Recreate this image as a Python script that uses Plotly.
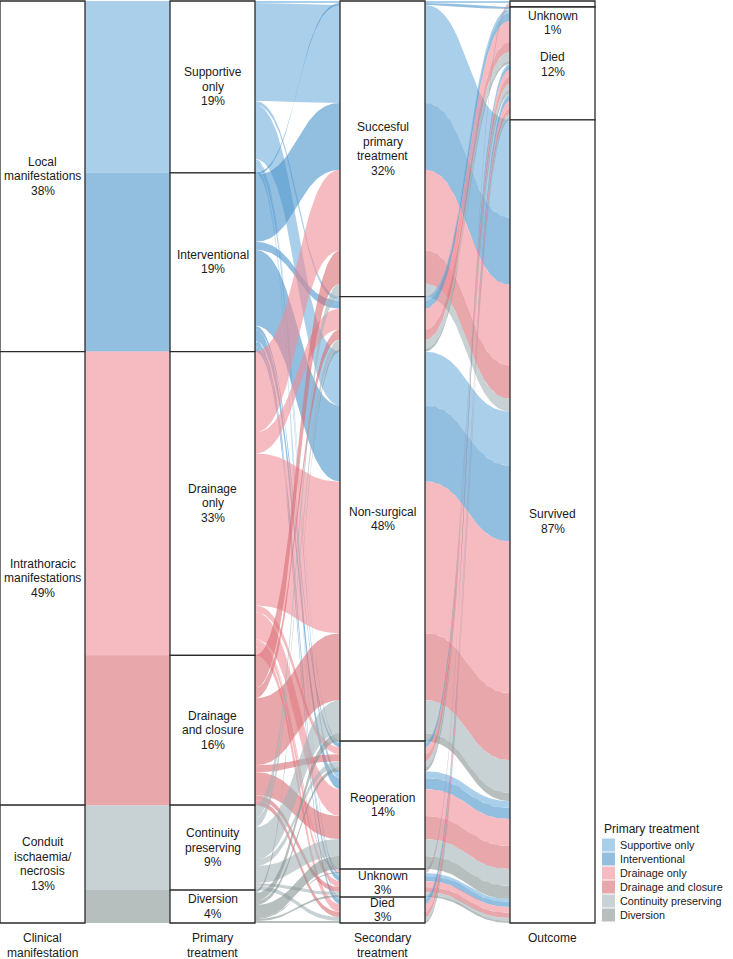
import numpy as np
import plotly.graph_objects as go

# ---------------- data ----------------
clinical_levels = ["Local manifestations", "Intrathoracic manifestations", "Conduit ischaemia/necrosis"]
clinical_labels = ["Local<br>manifestations<br>38%", "Intrathoracic<br>manifestations<br>49%",
                   "Conduit<br>ischaemia/<br>necrosis<br>13%"]

primary_levels = ["Supportive only", "Interventional", "Drainage only", "Drainage and closure",
                  "Continuity preserving", "Diversion"]
primary_labels = ["Supportive<br>only<br>19%", "Interventional<br>19%", "Drainage<br>only<br>33%",
                  "Drainage<br>and closure<br>16%", "Continuity<br>preserving<br>9%", "Diversion<br>4%"]
primary_clinical = [0, 0, 1, 1, 2, 2]

secondary_levels = ["Succesful primary treatment", "Non-surgical", "Reoperation", "Unknown", "Died"]
secondary_labels = ["Succesful<br>primary<br>treatment<br>32%", "Non-surgical<br>48%", "Reoperation<br>14%",
                    "Unknown<br>3%", "Died<br>3%"]

outcome_levels = ["Unknown", "Died", "Survived"]
outcome_labels = ["Unknown<br>1%", "Died<br>12%", "Survived<br>87%"]

axis_titles = ["Clinical<br>manifestation", "Primary<br>treatment", "Secondary<br>treatment", "Outcome"]

primary_colors = ["rgba(113,175,220,0.6)", "rgba(73,147,203,0.6)", "rgba(240,142,150,0.6)",
                  "rgba(217,108,115,0.6)", "rgba(163,178,182,0.6)", "rgba(133,147,147,0.6)"]

# alluvia: primary index, secondary index, outcome index, patients
flow_primary = [0, 0, 0, 0, 0, 0, 0, 0,
                1, 1, 1, 1, 1, 1, 1, 1, 1,
                2, 2, 2, 2, 2, 2, 2, 2,
                3, 3, 3, 3, 3, 3, 3,
                4, 4, 4, 4, 4, 4, 4,
                5, 5, 5, 5, 5, 5, 5]
flow_secondary = [0, 0, 1, 1, 2, 2, 3, 4,
                  0, 0, 1, 1, 2, 2, 3, 3, 4,
                  0, 1, 1, 2, 2, 3, 3, 4,
                  0, 1, 1, 2, 2, 3, 4,
                  0, 1, 1, 2, 2, 3, 4,
                  1, 1, 2, 2, 3, 3, 4]
flow_outcome = [0, 2, 1, 2, 1, 2, 2, 1,
                1, 2, 1, 2, 1, 2, 0, 2, 1,
                2, 1, 2, 1, 2, 0, 2, 1,
                2, 1, 2, 1, 2, 2, 1,
                2, 1, 2, 1, 2, 2, 1,
                1, 2, 1, 2, 0, 2, 1]
flow_n = [2, 98, 4, 54, 2, 7, 3, 2,
          2, 67, 8, 76, 4, 11, 1, 5, 5,
          81, 21, 152, 7, 27, 2, 6, 8,
          33, 10, 67, 7, 23, 5, 5,
          13, 9, 33, 6, 17, 3, 4,
          3, 8, 4, 13, 1, 2, 2]

# ---------------- geometry ----------------
W, H = 733, 959
TOP_PX, BOT_PX = 1, 923
N = sum(flow_n)
u = (BOT_PX - TOP_PX) / N          # pixels per patient
y_lo = -TOP_PX / u
y_hi = (H - TOP_PX) / u
axis_px = 170.0
x_lo = 1 - 42.5 / axis_px
x_hi = x_lo + W / axis_px
half = 0.25
LINE_PX = 14.5

vals = [[primary_clinical[p], p, s, o] for p, s, o in zip(flow_primary, flow_secondary, flow_outcome)]
zigzag = [[0, 1, 2, 3], [1, 0, 2, 3], [2, 3, 1, 0], [3, 2, 1, 0]]
n_axes = 4
tops = np.zeros((n_axes, len(flow_n)))
for a in range(n_axes):
    order = sorted(range(len(flow_n)), key=lambda i: tuple(vals[i][k] for k in zigzag[a]) + (i,))
    c = 0.0
    for i in order:
        tops[a, i] = c
        c += flow_n[i]

fig = go.Figure()


def bez(y0, y1, x0, x1, t):
    xm = (x0 + x1) / 2
    x = (1 - t) ** 3 * x0 + 3 * (1 - t) ** 2 * t * xm + 3 * (1 - t) * t ** 2 * xm + t ** 3 * x1
    y = (1 - t) ** 3 * y0 + 3 * (1 - t) ** 2 * t * y0 + 3 * (1 - t) * t ** 2 * y1 + t ** 3 * y1
    return x, y


t = np.linspace(0, 1, 70)
for a in range(n_axes - 1):
    x0 = a + 1 + half
    x1 = a + 2 - half
    # merge neighbouring alluvia that stay adjacent on both sides and share a colour
    order = sorted(range(len(flow_n)), key=lambda i: tops[a, i])
    groups = []
    for i in order:
        col = flow_primary[i]
        if groups:
            g = groups[-1]
            if g[0] == col and abs(g[2] - tops[a, i]) < 1e-9 and abs(g[4] - tops[a + 1, i]) < 1e-9:
                g[2] += flow_n[i]
                g[4] += flow_n[i]
                continue
        groups.append([col, tops[a, i], tops[a, i] + flow_n[i], tops[a + 1, i], tops[a + 1, i] + flow_n[i]])
    for col, ya0, yb0, ya1, yb1 in groups:
        xt, yt = bez(ya0, ya1, x0, x1, t)
        xb, yb = bez(yb0, yb1, x0, x1, t)
        xs = np.concatenate([xt, xb[::-1], xt[:1]])
        ys = np.concatenate([yt, yb[::-1], yt[:1]])
        fig.add_trace(go.Scatter(x=xs, y=ys, mode="lines", fill="toself",
                                 fillcolor=primary_colors[col],
                                 line=dict(width=0), hoverinfo="skip", showlegend=False))

# strata boxes and labels
font_family = "Liberation Sans, Arial, Helvetica, sans-serif"
txt_font = dict(family=font_family, size=12, color="#1a1a1a")
leg_font = dict(family=font_family, size=10.8, color="#1a1a1a")
all_labels = [clinical_labels, primary_labels, secondary_labels, outcome_labels]
label_nudge = [[0, 0, 0], [0] * 6, [0] * 5, [19, 1, 0]]
shapes = []
annotations = []


def add_lines(xc, yc_px_center, text):
    lines = text.split("<br>")
    m = len(lines)
    for k, ln in enumerate(lines):
        ypx = yc_px_center + (k - (m - 1) / 2) * LINE_PX
        annotations.append(dict(x=xc, y=(ypx - TOP_PX) / u, xref="x", yref="y", text=ln,
                                showarrow=False, font=txt_font, xanchor="center", yanchor="middle"))


for a in range(n_axes):
    nlev = len(all_labels[a])
    sums = [0.0] * nlev
    for i, n in enumerate(flow_n):
        sums[vals[i][a]] += n
    c = 0.0
    for lev in range(nlev):
        y0, y1 = c, c + sums[lev]
        c = y1
        shapes.append(dict(type="rect", xref="x", yref="y", x0=a + 1 - half, x1=a + 1 + half,
                           y0=y0, y1=y1, fillcolor="white", line=dict(color="#2b2b2b", width=1.3),
                           layer="above"))
        center_px = TOP_PX + (y0 + y1) / 2 * u + label_nudge[a][lev]
        add_lines(a + 1, center_px, all_labels[a][lev])
    title_lines = axis_titles[a].split("<br>")
    for k, ln in enumerate(title_lines):
        ypx = 938 + k * 15
        annotations.append(dict(x=a + 1, y=(ypx - TOP_PX) / u, xref="x", yref="y", text=ln,
                                showarrow=False, font=txt_font, xanchor="center", yanchor="middle"))

# legend
lx = 602
annotations.append(dict(x=lx / W, y=1 - 829 / H, xref="paper", yref="paper", text="Primary treatment",
                        showarrow=False, xanchor="left", yanchor="middle", font=txt_font))
for k, name in enumerate(primary_levels):
    cy = 845 + 14 * k
    shapes.append(dict(type="rect", xref="paper", yref="paper", x0=lx / W, x1=(lx + 13) / W,
                       y0=1 - (cy - 6.5) / H, y1=1 - (cy + 6.5) / H,
                       fillcolor=primary_colors[k], line=dict(width=0), layer="above"))
    annotations.append(dict(x=(lx + 16) / W, y=1 - cy / H, xref="paper", yref="paper", text=name,
                            showarrow=False, xanchor="left", yanchor="middle", font=leg_font))

fig.update_layout(width=W, height=H, margin=dict(l=0, r=0, t=0, b=0),
                  plot_bgcolor="white", paper_bgcolor="white",
                  xaxis=dict(range=[x_lo, x_hi], visible=False, fixedrange=True),
                  yaxis=dict(range=[y_hi, y_lo], visible=False, fixedrange=True),
                  shapes=shapes, annotations=annotations, showlegend=False)

fig.write_html("out.html", config={"displayModeBar": False},
               post_script="document.body.style.margin='0px';document.body.style.overflow='hidden';")
